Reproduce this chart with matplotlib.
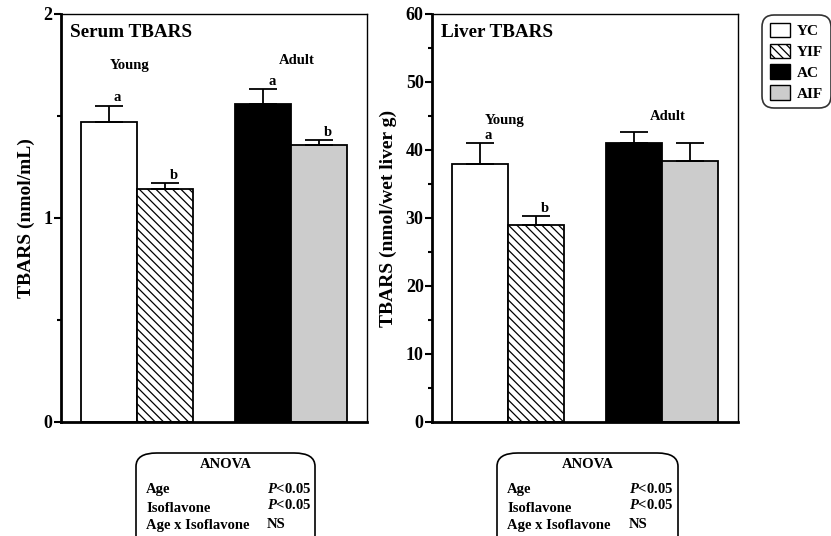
import matplotlib

matplotlib.use("Agg")
import matplotlib.pyplot as plt
from matplotlib.patches import Patch, FancyBboxPatch
from matplotlib.ticker import MultipleLocator

plt.rcParams['font.family'] = ['Liberation Serif', 'DejaVu Serif']
plt.rcParams['font.weight'] = 'bold'
plt.rcParams['hatch.linewidth'] = 0.9
plt.rcParams['mathtext.fontset'] = 'custom'
plt.rcParams['mathtext.bfit'] = 'Liberation Serif:bold:italic'

groups = ["YC", "YIF", "AC", "AIF"]
colors_ = ["white", "white", "black", "#cccccc"]
hatches = [None, "\\\\\\\\", None, None]

serum_mean = [1.47, 1.14, 1.56, 1.36]
serum_err = [0.08, 0.03, 0.07, 0.02]
serum_letters = ["a", "b", "a", "b"]

liver_mean = [37.9, 29.0, 41.0, 38.4]
liver_err = [3.1, 1.3, 1.6, 2.6]
liver_letters = ["a", "b", "", ""]

anova_terms = ["Age", "Isoflavone", "Age x Isoflavone"]
anova_serum = ["P<0.05", "P<0.05", "NS"]
anova_liver = ["P<0.05", "P<0.05", "NS"]

xpos = [0.85, 1.85, 3.6, 4.6]

W, H = 831, 536
fig = plt.figure(figsize=(W / 100, H / 100), dpi=100)


def px_axes(x0, y0, x1, y1):
    return fig.add_axes([x0 / W, 1 - y1 / H, (x1 - x0) / W, (y1 - y0) / H])


def draw_panel(ax, means, errs, letters, ymax, major, minor, labels, title, ylabel,
               young_xy, adult_xy):
    for x, m, e, c, h in zip(xpos, means, errs, colors_, hatches):
        ax.bar(x, m, width=1.0, color=c, edgecolor="black", linewidth=1.3, hatch=h, zorder=2)
        ax.errorbar(x, m, yerr=[[0], [e]], color="black", capsize=10, capthick=1.3,
                    elinewidth=1.3, zorder=3)
    for x, m, e, l in zip(xpos, means, errs, letters):
        if l:
            ax.annotate(l, (x + 0.16, m + e), xytext=(0, 1), textcoords="offset points",
                        ha="center", va="bottom", fontsize=10.5, fontweight="bold")
    ax.set_xlim(0, 5.46)
    ax.set_ylim(0, ymax)
    ax.set_xticks([])
    ax.yaxis.set_major_locator(MultipleLocator(major))
    ax.yaxis.set_minor_locator(MultipleLocator(minor))
    ax.set_yticks([v for v in labels], [f"{v:g}" for v in labels])
    ax.tick_params(axis="y", which="major", length=5, width=1.5, labelsize=13, pad=1)
    ax.tick_params(axis="y", which="minor", length=3, width=1.5)
    for s in ["top", "right"]:
        ax.spines[s].set_linewidth(1.0)
    for s in ["left", "bottom"]:
        ax.spines[s].set_linewidth(2.0)
    ax.text(0.03, 0.955, title, transform=ax.transAxes, fontsize=13.8,
            fontweight="bold", va="center", ha="left")
    ax.text(*young_xy, "Young", ha="center", va="center", fontsize=10.5, fontweight="bold")
    ax.text(*adult_xy, "Adult", ha="center", va="center", fontsize=10.5, fontweight="bold")
    ax.set_ylabel(ylabel, fontsize=14, fontweight="bold", labelpad=6)


ax1 = px_axes(61, 14, 367, 422)
draw_panel(ax1, serum_mean, serum_err, serum_letters, 2, 1, 0.5, [0, 1, 2],
           "Serum TBARS", "TBARS (nmol/mL)", (1.23, 1.75), (4.2, 1.77))

ax2 = px_axes(432, 14, 738, 422)
draw_panel(ax2, liver_mean, liver_err, liver_letters, 60, 10, 5, [0, 10, 20, 30, 40, 50, 60],
           "Liver TBARS", "TBARS (nmol/wet liver g)", (1.30, 44.4), (4.21, 44.9))

# legend
handles = [Patch(facecolor=c, edgecolor="black", hatch=h, linewidth=1.0)
           for c, h in zip(colors_, hatches)]
leg = fig.legend(handles, groups, loc="upper left", bbox_to_anchor=(762 / W, 1 - 15 / H),
                 frameon=True, fancybox=True, fontsize=11, handlelength=1.3,
                 handleheight=1.1, handletextpad=0.5, labelspacing=0.35,
                 borderpad=0.5, borderaxespad=0)
leg.get_frame().set_edgecolor("black")
leg.get_frame().set_linewidth(1.2)
leg.get_frame().set_boxstyle("round,pad=0,rounding_size=0.8")


# ANOVA boxes
def anova_box(x0, x1, col_x, terms, vals):
    box = FancyBboxPatch((x0 / W, 1 - 560 / H), (x1 - x0) / W, (560 - 453) / H,
                         boxstyle="round,pad=0,rounding_size=0.025",
                         transform=fig.transFigure, facecolor="white",
                         edgecolor="black", linewidth=1.2)
    fig.patches.append(box)
    fig.text((x0 + x1) / 2 / W, 1 - 465 / H, "ANOVA", ha="center", va="center",
             fontsize=10.5, fontweight="bold")
    rows_y = [490, 508, 525]
    vals_y = [489, 505, 525]
    for t, v, ty, vy in zip(terms, vals, rows_y, vals_y):
        fig.text((x0 + 10) / W, 1 - ty / H, t, ha="left", va="center",
                 fontsize=10.5, fontweight="bold")
        if v.startswith("P"):
            s = r"$\mathbfit{P}$" + "<" + v[2:]
        else:
            s = v
        fig.text(col_x / W, 1 - vy / H, s, ha="left", va="center",
                 fontsize=10.5, fontweight="bold")


anova_box(136, 315, 267, anova_terms, anova_serum)
anova_box(497, 678, 629, anova_terms, anova_liver)

fig.savefig("out.png", dpi=100)
